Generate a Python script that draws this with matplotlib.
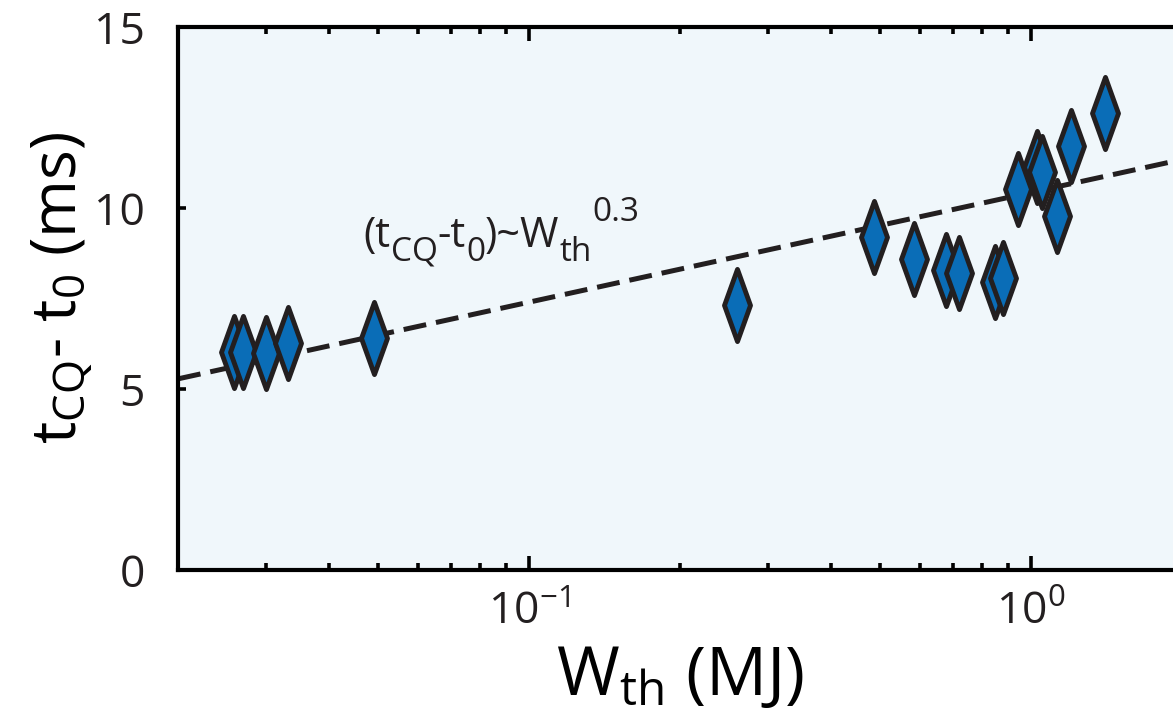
import matplotlib
matplotlib.use("Agg")
import matplotlib.pyplot as plt
from matplotlib.path import Path
from matplotlib.ticker import LogLocator, NullFormatter, FixedLocator

# thermal energy W_th (MJ) and CQ delay t_CQ - t_0 (ms)
w_th = [0.0259, 0.0269, 0.0300, 0.0332, 0.0492, 0.260,
        0.487, 0.586, 0.678, 0.719, 0.848, 0.880,
        0.942, 1.028, 1.052, 1.126, 1.201, 1.403]
t_cq = [6.02, 6.02, 5.99, 6.27, 6.41, 7.32,
        9.20, 8.59, 8.29, 8.20, 7.96, 8.07,
        10.52, 11.13, 11.00, 9.78, 11.71, 12.62]

# dashed trend line end points (straight on the semilog axes)
fit_w = [0.02, 2.0]
fit_t = [5.28, 11.34]

y_ticks = [0, 5, 10, 15]

# scaling-law label, written piece by piece: (text, size, baseline shift in pt)
law_pieces = [("(t", 30, 0), ("CQ", 24, -10), ("-t", 30, 0), ("0", 24, -10),
              (")~W", 30, 0), ("th", 24, -10), ("0.3", 24, 19)]

INK = "#231F20"
BLUE = "#0A6DB7"
BG = "#F0F7FB"

plt.rcParams["font.family"] = ["Open Sans", "DejaVu Sans"]
plt.rcParams["mathtext.fontset"] = "custom"
plt.rcParams["mathtext.rm"] = "Open Sans"
plt.rcParams["mathtext.it"] = "Open Sans"
plt.rcParams["mathtext.bf"] = "Open Sans:bold"
plt.rcParams["axes.unicode_minus"] = False
plt.rcParams["text.color"] = INK

fig = plt.figure(figsize=(11.73, 7.09), dpi=100)
W, H = 1173, 709
# right spine sits just past the cropped edge, as in the source
ax = fig.add_axes([178 / W, (H - 570) / H, (1182 - 178) / W, (570 - 27) / H])
ax.set_facecolor(BG)

diamond = Path([(0, 1), (0.36, 0), (0, -1), (-0.36, 0), (0, 1)],
               [Path.MOVETO, Path.LINETO, Path.LINETO, Path.LINETO, Path.CLOSEPOLY])

ax.semilogx(fit_w, fit_t, color=INK, lw=3.6, ls=(0, (4.6, 2.0)),
            dash_capstyle="butt", zorder=2)
ax.semilogx(w_th, t_cq, ls="none", marker=diamond, ms=52, mfc=BLUE,
            mec=INK, mew=3.5, zorder=3)

ax.set_xlim(0.02, 2)
ax.set_ylim(0, 15)
ax.yaxis.set_major_locator(FixedLocator(y_ticks))
ax.xaxis.set_major_locator(LogLocator(base=10))
ax.xaxis.set_minor_locator(LogLocator(base=10, subs=range(2, 10)))
ax.xaxis.set_minor_formatter(NullFormatter())

for s in ax.spines.values():
    s.set_linewidth(3.0)
    s.set_color("black")

ax.tick_params(axis="both", which="both", direction="in", top=True, right=True,
               colors="black", labelcolor=INK, width=2.6)
ax.tick_params(axis="x", which="major", length=10, pad=15, labelsize=32)
ax.tick_params(axis="x", which="minor", length=5)
ax.tick_params(axis="y", which="major", length=6, pad=24, labelsize=32)

ax.set_xlabel(r"W$_{\mathrm{th}}$ (MJ)", fontsize=49, labelpad=6)
ax.set_ylabel(r"t$_{\mathrm{CQ}}$- t$_{\mathrm{0}}$ (ms)", fontsize=45)
ax.yaxis.set_label_coords(-0.083, 0.52)

prev = None
for txt, size, dy in law_pieces:
    if prev is None:
        prev = ax.annotate(txt, xy=(0.0469, 8.92), xycoords="data",
                           xytext=(0, dy), textcoords="offset points",
                           fontsize=size, ha="left", va="baseline")
    else:
        prev = ax.annotate(txt, xy=(1, 8.92), xycoords=(prev, "data"),
                           xytext=(0, dy), textcoords="offset points",
                           fontsize=size, ha="left", va="baseline")

fig.savefig("out.png", dpi=100)
